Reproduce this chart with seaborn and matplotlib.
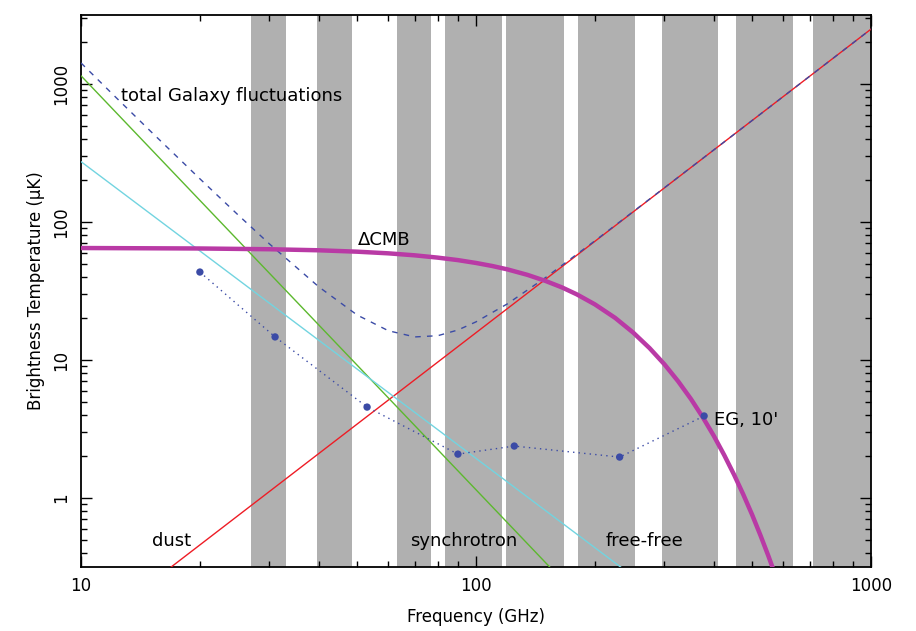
import matplotlib
matplotlib.use("Agg")
import matplotlib.pyplot as plt
import matplotlib.ticker as mticker
import seaborn as sns
import pandas as pd

sns.set_theme()
sns.set_style("ticks")
plt.rcParams['font.family'] = ['DejaVu Sans']


# Data

# Planck-like frequency bands (GHz)
band_lo = [27.0, 39.6, 63.0, 83.5, 119.4, 181.0, 295.0, 455.0, 715.0]
band_hi = [33.0, 48.4, 77.0, 116.5, 166.6, 253.0, 411.0, 635.0, 1000.0]

# power laws, two end points each (GHz, uK)
dust_freq = [10, 1000]
dust_temp = [0.0995, 2500]
sync_freq = [10, 1000]
sync_temp = [1148, 0.001148]
ff_freq = [10, 1000]
ff_temp = [274, 0.0137]

# total Galaxy fluctuations (dashed)
gal_freq = [10, 12, 15, 20, 25, 30, 40, 50, 60, 70, 80, 90, 100, 120, 150, 200, 300, 500, 1000]
gal_temp = [1422, 849, 455, 205.7, 112.4, 69.4, 33.9, 21.2, 16.3, 14.7, 15.0, 16.5, 18.9,
            25.5, 39.6, 73.1, 177.2, 544, 2500]

# Delta CMB
cmb_freq = [10, 20, 30, 40, 50, 60, 70, 80, 90, 100, 110, 120, 135, 150, 165, 180, 200,
            225, 250, 275, 300, 325, 350, 375, 400, 425, 450, 475, 500, 525, 550, 580]
cmb_temp = [64.8, 64.3, 63.5, 62.4, 60.96, 59.3, 57.35, 55.2, 52.96, 50.5, 47.99, 45.4,
            41.4, 37.4, 33.6, 29.9, 25.3, 20.2, 15.8, 12.2, 9.30, 7.0, 5.22, 3.85, 2.82,
            2.046, 1.477, 1.060, 0.757, 0.536, 0.379, 0.249]

# extragalactic sources, 10'
eg_freq = [20, 31, 53, 90, 125, 231, 378]
eg_temp = [43.4, 14.7, 4.56, 2.08, 2.38, 1.98, 3.93]

c_red = "#ee1c25"
c_green = "#5cb82e"
c_cyan = "#72d4e0"
c_blue = "#3b4ba6"
c_mag = "#b93aa5"
c_gray = "#b0b0b0"


fig, ax = plt.subplots(figsize=(9.16, 6.31), dpi=100)
fig.subplots_adjust(left=0.0884, right=0.9509, bottom=0.1014, top=0.9762)

for lo, hi in zip(band_lo, band_hi):
    ax.axvspan(lo, hi, color=c_gray, lw=0, zorder=0)

sns.lineplot(x=dust_freq, y=dust_temp, color=c_red, lw=1, ax=ax, zorder=3)
sns.lineplot(x=sync_freq, y=sync_temp, color=c_green, lw=1, ax=ax, zorder=3)
sns.lineplot(x=ff_freq, y=ff_temp, color=c_cyan, lw=1, ax=ax, zorder=3)

gal = pd.DataFrame({"f": gal_freq, "t": gal_temp})
sns.lineplot(data=gal, x="f", y="t", color=c_blue, lw=1, ax=ax, zorder=4,
             estimator=None, dashes=False)
ax.lines[-1].set_dashes((4, 4.5))

cmb = pd.DataFrame({"f": cmb_freq, "t": cmb_temp})
sns.lineplot(data=cmb, x="f", y="t", color=c_mag, lw=3.2, ax=ax, zorder=5,
             estimator=None)

eg = pd.DataFrame({"f": eg_freq, "t": eg_temp})
sns.lineplot(data=eg, x="f", y="t", color=c_blue, lw=1, ax=ax, zorder=6,
             estimator=None)
ax.lines[-1].set_linestyle((0, (1, 3)))
sns.scatterplot(data=eg, x="f", y="t", color=c_blue, s=28, edgecolor="none",
                ax=ax, zorder=7)

ax.set_xscale("log")
ax.set_yscale("log")
ax.set_xlim(10, 1000)
ax.set_ylim(10 ** -0.5, 10 ** 3.5)

fmt = mticker.FuncFormatter(lambda v, p: "%g" % v)
ax.xaxis.set_major_locator(mticker.LogLocator(base=10))
ax.yaxis.set_major_locator(mticker.LogLocator(base=10))
ax.xaxis.set_major_formatter(fmt)
ax.yaxis.set_major_formatter(fmt)
ax.xaxis.set_minor_formatter(mticker.NullFormatter())
ax.yaxis.set_minor_formatter(mticker.NullFormatter())

ax.tick_params(which="both", direction="in", top=True, right=True,
               width=1, color="black", labelsize=12, labelcolor="black")
ax.tick_params(which="major", length=8)
ax.tick_params(which="minor", length=4)
ax.tick_params(axis="x", pad=7)
ax.tick_params(axis="y", pad=8, labelrotation=90)
for lbl in ax.get_yticklabels():
    lbl.set_va("center")

for s in ax.spines.values():
    s.set_linewidth(1.3)
    s.set_color("black")

ax.set_xlabel("Frequency (GHz)", fontsize=12, color="black")
ax.set_ylabel("Brightness Temperature (μK)", fontsize=12, color="black")
ax.xaxis.set_label_coords(0.5, -0.075)
ax.yaxis.set_label_coords(-0.045, 0.5)

txt = dict(fontsize=13, color="black", zorder=8)
ax.text(12.6, 819, "total Galaxy fluctuations", ha="left", va="center", **txt)
ax.text(50.3, 74, "ΔCMB", ha="left", va="center", **txt)
ax.text(15.1, 0.488, "dust", ha="left", va="center", **txt)
ax.text(68.1, 0.488, "synchrotron", ha="left", va="center", **txt)
ax.text(213, 0.488, "free-free", ha="left", va="center", **txt)
ax.text(401, 3.67, "EG, 10'", ha="left", va="center", **txt)

if ax.get_legend() is not None:
    ax.get_legend().remove()

fig.savefig("out.png", dpi=100)
